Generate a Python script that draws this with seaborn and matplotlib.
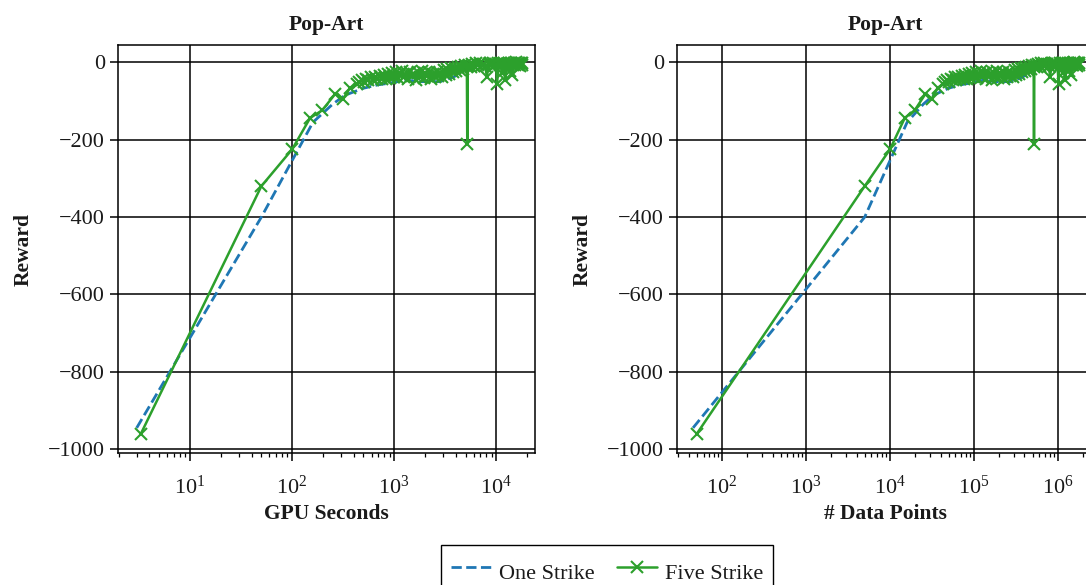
import matplotlib
matplotlib.use("Agg")
import matplotlib.pyplot as plt
import seaborn as sns

# --- data (Pop-Art, One Strike vs Five Strike) ---
one_gpu_seconds = [3, 50, 160, 250, 330, 500, 700, 900, 1300, 1800, 2800,
                   3800, 4400, 4900, 6000, 8000, 10000, 13000, 16000, 18000]
one_data_points = [45, 5000, 16000, 25000, 33000, 50000, 70000, 90000, 130000,
                   180000, 280000, 380000, 440000, 490000, 600000, 800000,
                   1000000, 1300000, 1600000, 1800000]
one_reward = [-945, -400, -155, -108, -85, -67, -58, -54, -46, -50, -50,
              -38, -30, -18, -10, -6, -5, -4, -3, -3]

five_gpu_seconds = [
    3.3, 50, 100, 150, 197, 264, 316, 370, 433,
    455, 480, 505, 530, 560, 590, 620, 650, 685, 720,
    755, 790, 830, 870, 910, 955, 1000, 1050, 1100, 1150,
    1200, 1260, 1320, 1380, 1440, 1500, 1570, 1640, 1710, 1780,
    1860, 1940, 2020, 2110, 2200, 2290, 2390, 2490, 2600, 2710,
    2820, 2940, 3060, 3190, 3320, 3460, 3600, 3750, 3900, 4060,
    4220, 4390, 4560, 4740, 4920,
    5150, 5200, 5250,
    5450, 5650, 5850, 6050,
    6300, 6600, 6900, 7200, 7500, 7800, 8100, 8400, 8700, 9000,
    9300, 9600, 9900, 10200, 10500, 10800, 11100, 11400, 11700, 12000,
    12300, 12600, 12900, 13200, 13500, 13800, 14100, 14400, 14700, 15000,
    15300, 15600, 15900, 16200, 16500, 16800, 17100, 17400, 17700, 18000,
]
five_data_points = [
    50, 5000, 10000, 15000, 19700, 26400, 31600, 37000, 43300,
    45500, 48000, 50500, 53000, 56000, 59000, 62000, 65000, 68500, 72000,
    75500, 79000, 83000, 87000, 91000, 95500, 100000, 105000, 110000, 115000,
    120000, 126000, 132000, 138000, 144000, 150000, 157000, 164000, 171000,
    178000,
    186000, 194000, 202000, 211000, 220000, 229000, 239000, 249000, 260000,
    271000,
    282000, 294000, 306000, 319000, 332000, 346000, 360000, 375000, 390000,
    406000,
    422000, 439000, 456000, 474000, 492000,
    515000, 520000, 525000,
    545000, 565000, 585000, 605000,
    630000, 660000, 690000, 720000, 750000, 780000, 810000, 840000, 870000,
    900000,
    930000, 960000, 990000, 1020000, 1050000, 1080000, 1110000, 1140000,
    1170000, 1200000,
    1230000, 1260000, 1290000, 1320000, 1350000, 1380000, 1410000, 1440000,
    1470000, 1500000,
    1530000, 1560000, 1590000, 1620000, 1650000, 1680000, 1710000, 1740000,
    1770000, 1800000,
]
five_reward = [
    -960, -320, -225, -144, -124, -82, -94, -66, -56,
    -50, -46, -52, -42, -47, -39, -45, -37, -44, -35,
    -42, -33, -44, -31, -40, -28, -38, -25, -41, -30,
    -22, -37, -27, -43, -24, -35, -29, -45, -26, -38,
    -23, -41, -28, -36, -25, -42, -30, -38, -24, -35,
    -27, -37, -21, -32, -18, -29, -16, -26, -14, -23,
    -12, -20, -10, -17, -8,
    -12, -210, -10,
    -6, -11, -4, -9,
    -3, -8, -2, -7, -4, -10, -38, -5, -1, -7,
    -3, -9, -4, -55, -3, -8, -1, -28, -5, -2,
    -47, -4, -7, -1, -22, -5, -2, -34, -6, -1,
    -8, 0, -5, -2, -7, -1, -9, -3, -6, -3,
]

panels = [
    ("GPU Seconds", one_gpu_seconds, five_gpu_seconds, (1.97, 24000)),
    ("# Data Points", one_data_points, five_data_points, (29, 2.7e6)),
]

BLUE = "#1f77b4"
GREEN = "#2ca02c"

sns.set_theme(style="white")
plt.rcParams["font.family"] = ["Liberation Serif", "DejaVu Serif"]
plt.rcParams["mathtext.fontset"] = "stix"

fig = plt.figure(figsize=(10.86, 5.85), dpi=100)
lefts = [0.1087, 0.6234]

for left, (xlabel, one_x, five_x, xlim) in zip(lefts, panels):
    ax = fig.add_axes([left, 0.2256, 0.384, 0.697])
    sns.lineplot(x=one_x, y=one_reward, ax=ax, color=BLUE, linestyle="--",
                 linewidth=2.0, sort=False, estimator=None, label="One Strike")
    sns.lineplot(x=five_x, y=five_reward, ax=ax, color=GREEN, linewidth=1.8,
                 marker="x", markersize=9, markeredgewidth=1.5,
                 markeredgecolor=GREEN, sort=False, estimator=None,
                 label="Five Strike")
    ax.set_xscale("log")
    ax.set_xlim(*xlim)
    ax.set_ylim(-1010, 44)
    ax.set_yticks([0, -200, -400, -600, -800, -1000])

    ax.grid(True, which="major", color="black", linewidth=1.1)
    ax.grid(False, which="minor")
    for spine in ax.spines.values():
        spine.set_color("black")
        spine.set_linewidth(1.1)

    ax.tick_params(axis="both", which="major", direction="out", length=6,
                   width=1.1, color="black", labelsize=16, labelcolor="#1a1a1a",
                   bottom=True, left=True)
    ax.tick_params(axis="x", which="major", pad=10)
    ax.tick_params(axis="x", which="minor", direction="out", length=3,
                   width=0.9, color="black", bottom=True)

    ax.set_title("Pop-Art", fontsize=15.5, fontweight="bold", pad=11,
                 color="#1a1a1a")
    ax.set_xlabel(xlabel, fontsize=15.5, fontweight="bold", color="#1a1a1a",
                  labelpad=4)
    ax.set_ylabel("Reward", fontsize=15.5, fontweight="bold", color="#1a1a1a",
                  labelpad=10)
    handles, labels = ax.get_legend_handles_labels()
    ax.get_legend().remove()

leg = fig.legend(handles, labels, loc="upper center",
                 bbox_to_anchor=(0.559, 0.079), ncol=2, fontsize=16,
                 frameon=True, fancybox=False, edgecolor="black",
                 framealpha=1, handlelength=1.8, handleheight=1.85,
                 handletextpad=0.35, columnspacing=1.0, borderpad=0.45,
                 borderaxespad=0.3)
leg.get_frame().set_linewidth(1.0)
for text in leg.get_texts():
    text.set_color("#1a1a1a")

fig.savefig("out.png", dpi=100)
